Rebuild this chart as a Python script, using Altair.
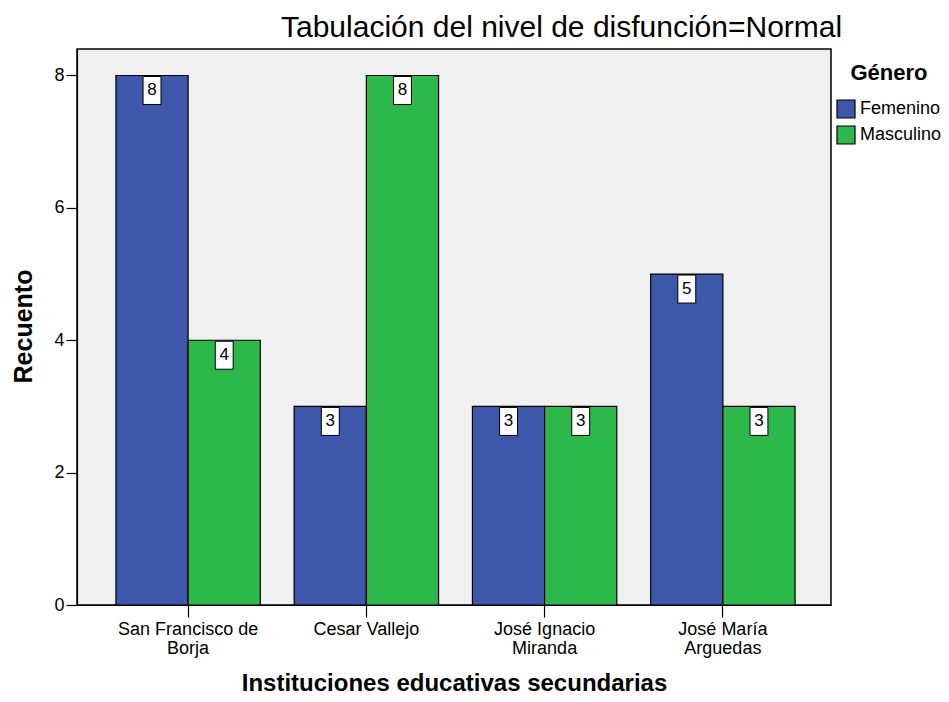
import altair as alt
import pandas as pd

instituciones = ["San Francisco de|Borja", "Cesar Vallejo", "José Ignacio|Miranda", "José María|Arguedas"]
generos = ["Femenino", "Masculino"]
femenino = [8, 3, 3, 5]
masculino = [4, 8, 3, 3]
colores = ["#3D57AB", "#2DB84C"]
y_ticks = [0, 2, 4, 6, 8]

rows = []
for inst, f, m in zip(instituciones, femenino, masculino):
    rows.append({"inst": inst, "genero": generos[0], "n": f})
    rows.append({"inst": inst, "genero": generos[1], "n": m})
df = pd.DataFrame(rows)

FONT = "Liberation Sans"

x = alt.X("inst:N", sort=instituciones, title="Instituciones educativas secundarias",
          scale=alt.Scale(paddingInner=0.19, paddingOuter=0.21, align=0.52),
          axis=alt.Axis(labelAngle=0, labelExpr="split(datum.label, '|')",
                        labelFontSize=18, labelFont=FONT, labelColor="black",
                        labelPadding=3, labelLineHeight=19, labelBaseline="top",
                        tickSize=12, tickColor="black", tickWidth=1.2,
                        domainColor="black", domainWidth=1.2,
                        titleFont=FONT, titleFontSize=24, titleFontWeight="bold",
                        titleColor="black", titleX=377, titleY=78,
                        titleBaseline="middle", titleAnchor="middle"))
y = alt.Y("n:Q", title="Recuento",
          scale=alt.Scale(domain=[0, 8.4], nice=False),
          axis=alt.Axis(values=y_ticks, format="d", grid=False,
                        labelFontSize=18, labelFont=FONT, labelColor="black",
                        labelPadding=2,
                        tickSize=11, tickColor="black", tickWidth=1.2,
                        domainColor="black", domainWidth=1.2,
                        titleFont=FONT, titleFontSize=25, titleFontWeight="bold",
                        titleColor="black", titleX=-54, titleY=277,
                        titleBaseline="middle", titleAngle=-90))
xo = alt.XOffset("genero:N", sort=generos)
color = alt.Color("genero:N", sort=generos,
                  scale=alt.Scale(domain=generos, range=colores),
                  legend=alt.Legend(title="Género", orient="none", legendX=759, legendY=14,
                                    titleFont=FONT, titleFontSize=22, titleFontWeight="bold",
                                    titleColor="black", titleAnchor="middle", titlePadding=14,
                                    labelFont=FONT, labelFontSize=18, labelColor="black",
                                    symbolType="square", symbolSize=324,
                                    symbolStrokeColor="black", symbolStrokeWidth=1.2,
                                    symbolOpacity=1,
                                    rowPadding=2, labelOffset=4))

bars = alt.Chart(df).mark_bar(stroke="black", strokeWidth=1.2, opacity=1).encode(
    x=x, xOffset=xo, y=y, color=color)

boxes = alt.Chart(df).mark_point(
    shape="M-0.64,-1 L0.64,-1 L0.64,1 L-0.64,1 Z", size=784,
    filled=True, fill="white", stroke="black", strokeWidth=1, opacity=1, yOffset=15
).encode(x=alt.X("inst:N", sort=instituciones), xOffset=xo, y="n:Q")

labels = alt.Chart(df).mark_text(
    font=FONT, fontSize=17, color="black", yOffset=15, baseline="middle"
).encode(x=alt.X("inst:N", sort=instituciones), xOffset=xo, y="n:Q", text="n:Q")

chart = alt.layer(bars, boxes, labels).properties(
    width=754, height=556,
    title=alt.TitleParams("Tabulación del nivel de disfunción=Normal", font=FONT,
                          fontSize=30, fontWeight="normal", color="black",
                          anchor="start", frame="group", dx=204, offset=6),
    autosize=alt.AutoSizeParams(type="none"),
    padding={"left": 69, "top": 41, "right": 110, "bottom": 89},
).configure_view(fill="#F0F0F0", stroke="black", strokeWidth=1.5)

chart.save("out.html", embed_options={"renderer": "svg", "actions": False})
